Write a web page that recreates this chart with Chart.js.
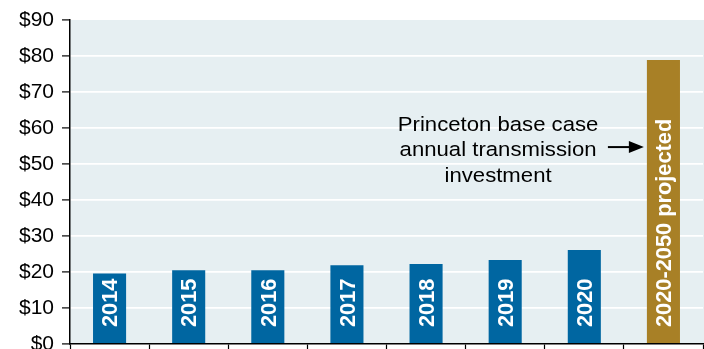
<!DOCTYPE html>
<html>
<head>
<meta charset="utf-8">
<script src="https://cdn.jsdelivr.net/npm/chart.js@4/dist/chart.umd.min.js"></script>
<style>
  html, body { margin: 0; padding: 0; background: #ffffff; }
  #wrap { width: 704px; height: 349px; position: relative; }
</style>
</head>
<body>
<div id="wrap"><canvas id="c" width="704" height="349"></canvas></div>
<script>
// ---- data ----
const categories = ['2014', '2015', '2016', '2017', '2018', '2019', '2020', '2020-2050 projected'];
const investment = [19.6, 20.5, 20.5, 21.9, 22.2, 23.3, 26.1, 78.9];
const barColors = ['#0066a1', '#0066a1', '#0066a1', '#0066a1', '#0066a1', '#0066a1', '#0066a1', '#a88026'];
const yTicks = [0, 10, 20, 30, 40, 50, 60, 70, 80, 90];
const annotationLines = ['Princeton base case', 'annual transmission', 'investment'];
const annotationAnchor = { index: 4.91, value: 59.2 };
const arrowValue = 54.7;

const FONT = "'Liberation Sans', Arial, sans-serif";

const bgPlugin = {
  id: 'plotBg',
  beforeDraw(chart) {
    const { ctx, chartArea: a } = chart;
    ctx.save();
    ctx.fillStyle = '#e6eff2';
    ctx.fillRect(a.left, a.top, a.right - a.left + 1, a.bottom - a.top);
    ctx.restore();
  }
};

const barLabelPlugin = {
  id: 'barLabels',
  afterDatasetsDraw(chart) {
    const { ctx } = chart;
    const meta = chart.getDatasetMeta(0);
    const size = 21.8;
    ctx.save();
    ctx.fillStyle = '#ffffff';
    ctx.font = 'bold ' + size + 'px ' + FONT;
    ctx.textAlign = 'left';
    ctx.textBaseline = 'alphabetic';
    meta.data.forEach((bar, i) => {
      ctx.save();
      ctx.translate(bar.x, bar.base - 16);
      ctx.rotate(-Math.PI / 2);
      ctx.fillText(categories[i], 0, size * 0.716 / 2);
      ctx.restore();
    });
    ctx.restore();
  }
};

const annotationPlugin = {
  id: 'annot',
  afterDraw(chart) {
    const { ctx } = chart;
    const xs = chart.scales.x, ys = chart.scales.y;
    const cx = xs.getPixelForValue(annotationAnchor.index);
    const by = ys.getPixelForValue(annotationAnchor.value);
    const sx = 1.08;
    ctx.save();
    ctx.fillStyle = '#000000';
    ctx.font = '20.5px ' + FONT;
    ctx.textAlign = 'center';
    ctx.textBaseline = 'alphabetic';
    annotationLines.forEach((t, i) => {
      ctx.save();
      ctx.translate(cx, by + i * 25.5);
      ctx.scale(sx, 1);
      ctx.fillText(t, 0, 0);
      ctx.restore();
    });
    // arrow to projected bar
    const meta = chart.getDatasetMeta(0);
    const gold = meta.data[meta.data.length - 1];
    const tip = gold.x - gold.width / 2 - 3;
    const start = tip - 36;
    const ay = ys.getPixelForValue(arrowValue);
    ctx.strokeStyle = '#000000';
    ctx.lineWidth = 2;
    ctx.beginPath();
    ctx.moveTo(start, ay);
    ctx.lineTo(tip - 12, ay);
    ctx.stroke();
    ctx.beginPath();
    ctx.moveTo(tip, ay);
    ctx.lineTo(tip - 15, ay - 6);
    ctx.lineTo(tip - 15, ay + 6);
    ctx.closePath();
    ctx.fill();
    ctx.restore();
  }
};

new Chart(document.getElementById('c'), {
  type: 'bar',
  data: {
    labels: categories,
    datasets: [{
      data: investment,
      backgroundColor: barColors,
      borderWidth: 0,
      barPercentage: 0.418,
      categoryPercentage: 1.0
    }]
  },
  options: {
    responsive: false,
    animation: false,
    devicePixelRatio: 1,
    layout: { padding: { top: 20, right: 1, bottom: 0, left: 0 } },
    plugins: { legend: { display: false }, tooltip: { enabled: false }, title: { display: false } },
    scales: {
      x: {
        offset: true,
        grid: {
          display: true,
          offset: true,
          drawOnChartArea: false,
          drawTicks: true,
          tickLength: 5,
          tickColor: '#000000',
          tickWidth: 1.2
        },
        border: { display: true, color: '#000000', width: 1.5 },
        ticks: { display: false }
      },
      y: {
        min: 0,
        max: 90,
        afterBuildTicks(scale) { scale.ticks = yTicks.map(v => ({ value: v })); },
        afterFit(scale) {
          scale.width = 70;
          scale.paddingTop = 0;
          scale.paddingBottom = 0;
        },
        grid: {
          color: (c) => (c.tick && (c.tick.value === 90 || c.tick.value === 0)) ? 'rgba(0,0,0,0)' : '#ffffff',
          lineWidth: 1.8,
          drawTicks: true,
          tickLength: 8,
          tickColor: '#000000',
          tickWidth: 1.2
        },
        border: { display: true, color: '#000000', width: 1.5 },
        ticks: {
          padding: 8,
          color: '#000000',
          font: { family: FONT, size: 21 },
          callback: (v) => '$' + v
        }
      }
    }
  },
  plugins: [bgPlugin, barLabelPlugin, annotationPlugin]
});
</script>
</body>
</html>
